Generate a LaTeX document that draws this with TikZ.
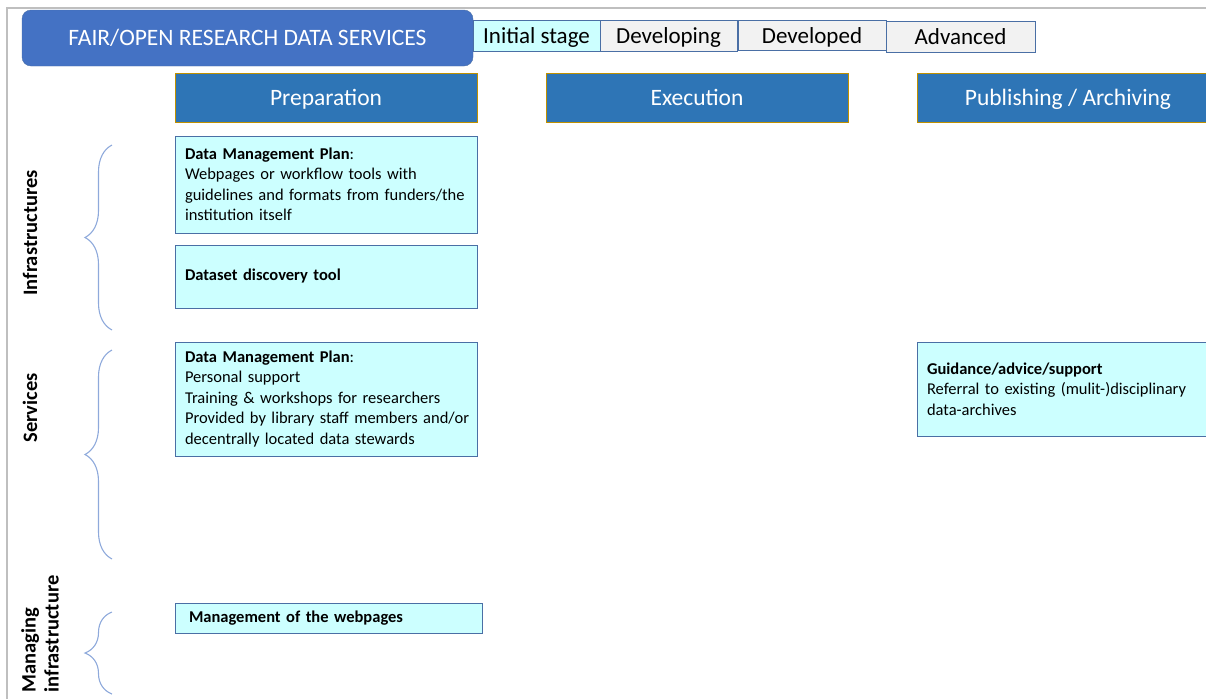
\documentclass[tikz,border=0pt]{standalone}
\usepackage{fontspec}
\setmainfont{Carlito}
\usetikzlibrary{decorations.pathreplacing}
\definecolor{titleblue}{HTML}{4472C4}
\definecolor{headblue}{HTML}{2E75B6}
\definecolor{headgold}{HTML}{BF9000}
\definecolor{boxcyan}{HTML}{CCFFFF}
\definecolor{boxline}{HTML}{4A6FA5}
\definecolor{stagegray}{HTML}{F2F2F2}
\definecolor{bracecol}{HTML}{8EA9DB}
\definecolor{framegray}{HTML}{BFBFBF}
\begin{document}
\begin{tikzpicture}
    [
        x=1pt, y=-1pt,
        title/.style={rectangle, rounded corners=9pt, draw=boxline, fill=titleblue, text=white,
            minimum width=451pt, minimum height=56pt, font=\fontsize{23.5}{27}\selectfont},
        stage/.style={rectangle, draw=boxline, fill=stagegray, minimum height=31pt,
            inner sep=0pt, text height=16pt, text depth=0pt, font=\fontsize{23}{27}\selectfont},
        phase/.style={rectangle, draw=headgold, fill=headblue, text=white, minimum width=302pt,
            minimum height=49pt, text height=16pt, text depth=0pt, font=\fontsize{23.5}{27}\selectfont},
        item/.style={rectangle, draw=boxline, fill=boxcyan, inner xsep=10pt, inner ysep=0pt,
            text width=282pt, align=left, font=\fontsize{16.5}{20.5}\selectfont},
        rowlabel/.style={rotate=90, align=left, font=\bfseries\fontsize{20.5}{23}\selectfont},
        group/.style={draw=bracecol, line width=1.1pt,
            decorate, decoration={brace, amplitude=27pt}},
    ]

    \clip (0,0) rectangle (1206,699);

    % slide frame
    \draw [framegray, line width=2pt] (7,699) -- (7,8) -- (1206,8);

    % title and stages
    \node (title) at (247.5,38) [title] {FAIR/OPEN RESEARCH DATA SERVICES};
    \node (initial)    at (536.5,35.5) [stage, fill=boxcyan, minimum width=127pt] {Initial stage};
    \node (developing) at (668.5,35.5) [stage, minimum width=137pt] {Developing};
    \node (developed)  at (812,35)     [stage, minimum width=148pt, minimum height=30pt] {Developed};
    \node (advanced)   at (960.5,36.5) [stage, minimum width=149pt] {Advanced};

    % phases
    \node (prep) at (326,97.5)  [phase] {Preparation};
    \node (exec) at (697,97.5)  [phase] {Execution};
    \node (publ) at (1068,97.5) [phase] {Publishing / Archiving};

    % rows
    \node (infra)   at (30,233) [rowlabel] {Infrastructures};
    \node (serv)    at (30,408) [rowlabel] {Services};
    \node (manage)  at (40,634) [rowlabel] {Managing\\infrastructure};

    \coordinate (infratop) at (112,145);
    \coordinate (infrabot) at (112,330);
    \coordinate (servtop)  at (112,350);
    \coordinate (servbot)  at (112,559);
    \coordinate (mantop)   at (112,612);
    \coordinate (manbot)   at (112,694);

    \draw [group] (infrabot) -- (infratop);
    \draw [group] (servbot) -- (servtop);
    \draw [group] (manbot) -- (mantop);

    % items
    \node (dmpinfra) at (326,184.5) [item, minimum height=97pt]
        {\textbf{Data Management Plan}:\\
        Webpages or workflow tools with\\
        guidelines and formats from funders/the\\
        institution itself};
    \node (discovery) at (326,276.5) [item, minimum height=63pt]
        {\textbf{Dataset discovery tool}};
    \node (dmpserv) at (326,399) [item, minimum height=114pt]
        {\textbf{Data Management Plan}:\\
        Personal support\\
        Training \& workshops for researchers\\
        \mbox{Provided by library staff members and/or}\\
        decentrally located data stewards};
    \node (guidance) at (1068,389) [item, minimum height=94pt]
        {\textbf{Guidance/advice/support}\\
        Referral to existing (mulit-)disciplinary\\
        data-archives};
    \node (webpages) at (328.5,618) [item, text width=287pt, inner xsep=10pt, minimum height=30pt]
        {\hspace*{4pt}\textbf{Management of the webpages}};

\end{tikzpicture}
\end{document}
